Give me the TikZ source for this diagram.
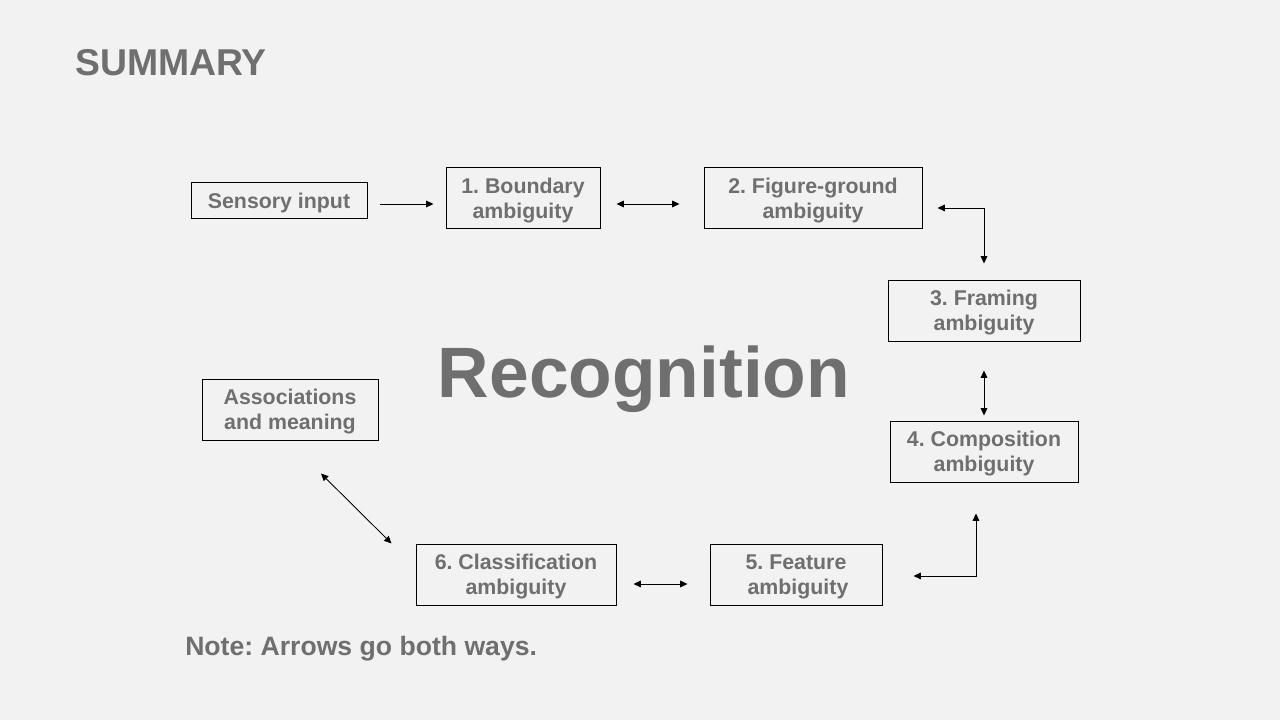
\documentclass[tikz,border=0pt]{standalone}
\usepackage{fontspec}
\setmainfont{Liberation Sans}
\usetikzlibrary{arrows.meta}
\definecolor{bg}{HTML}{F2F2F2}
\definecolor{txt}{HTML}{6F6F6F}
\frenchspacing
\begin{document}
\begin{tikzpicture}[x=0.75pt,y=-0.75pt,
  box/.style={draw=black, line width=0.75pt, text=txt,
    font=\bfseries\fontsize{16}{18.75}\selectfont, align=center,
    inner sep=0pt, minimum height=45.75pt, text depth=-1.6pt},
  tip/.tip={Triangle[length=5.5pt,width=5pt]},
  arr/.style={tip-tip, line width=0.65pt},
  onearr/.style={-tip, line width=0.65pt}]
\fill[bg] (0,0) rectangle (1280,720);
\useasboundingbox (0,0) rectangle (1280,720);

\node[anchor=base west, text=txt, font=\bfseries\fontsize{28}{32}\selectfont, inner sep=0pt] (title) at (75,76) {SUMMARY};
\node[anchor=base, text=txt, font=\bfseries\fontsize{53.5}{60}\selectfont, inner sep=0pt] (rec) at (644,397) {Recognition};
\node[anchor=base west, text=txt, font=\bfseries\fontsize{19.95}{24}\selectfont, inner sep=0pt] (note) at (185,655) {Note: Arrows go both ways.};

\node[box, minimum width=132pt, minimum height=27pt, text height=15pt, text depth=3.4pt] (s) at (279,201) {Sensory input};
\node[box, minimum width=115.5pt] (b1) at (523,198.5) {1. Boundary\\ambiguity};
\node[box, minimum width=163.5pt] (b2) at (813,198.5) {2. Figure-ground\\ambiguity};
\node[box, minimum width=144pt] (b3) at (984,310.5) {3. Framing\\ambiguity};
\node[box, minimum width=141pt] (b4) at (984,451.5) {4. Composition\\ambiguity};
\node[box, minimum width=129pt] (b5) at (796,574.5) {5. Feature\\\hspace{3pt}ambiguity};
\node[box, minimum width=150pt] (b6) at (516,574.5) {6. Classification\\ambiguity};
\node[box, minimum width=132pt] (as) at (290,409.5) {Associations\\and meaning};

\draw[onearr, shorten <=9pt, shorten >=9pt] ([yshift=-2.25pt]s.east) -- ([yshift=-2.25pt]b1.west |- s.east);
\draw[arr, shorten <=12pt, shorten >=18pt] ([yshift=-4.1pt]b1.east) -- ([yshift=-4.1pt]b2.west);
\draw[arr, shorten <=11.25pt, shorten >=12pt] ([yshift=-7.1pt]b2.east) -| (b3.north);
\draw[arr, shorten <=21.75pt, shorten >=3.75pt] (b3.south) -- (b4.north);
\draw[arr, shorten <=23.25pt, shorten >=23.25pt] ([xshift=-6pt]b4.south) |- ([yshift=-1.1pt]b5.east);
\draw[arr, shorten <=16.5pt, shorten >=12.75pt] ([yshift=-7.1pt]b5.west) -- ([yshift=-7.1pt]b6.east);
\draw[arr] ([xshift=-18pt]b6.north west) -- ([xshift=23.25pt,yshift=-24.75pt]as.south);
\end{tikzpicture}
\end{document}
